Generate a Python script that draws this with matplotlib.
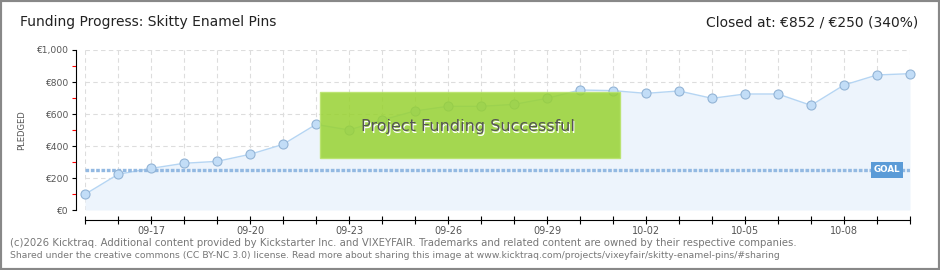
import numpy as np
import matplotlib
matplotlib.use("Agg")
import matplotlib.pyplot as plt
from matplotlib.patches import Rectangle

plt.rcParams['font.family'] = ['DejaVu Sans']

# data
dates = ['09-15', '09-16', '09-17', '09-18', '09-19', '09-20', '09-21', '09-22', '09-23',
         '09-24', '09-25', '09-26', '09-27', '09-28', '09-29', '09-30', '10-01', '10-02',
         '10-03', '10-04', '10-05', '10-06', '10-07', '10-08', '10-09', '10-10']
pledged = [98, 223, 260, 292, 304, 348, 410, 535, 500, 562, 619, 648, 648, 660, 698,
           750, 746, 729, 744, 698, 725, 725, 654, 781, 844, 852]
goal = 250
y_ticks = [0, 200, 400, 600, 800, 1000]
y_labels = ['€0', '€200', '€400', '€600', '€800', '€1,000']

W, H = 940, 270
fig = plt.figure(figsize=(W / 100, H / 100), dpi=100)
ax = fig.add_axes([85 / W, 1 - 210 / H, 825 / W, 160 / H])
x = np.arange(len(dates))

ax.set_xlim(0, len(dates) - 1)
ax.set_ylim(0, 1000)

# grid
for xi in x:
    ax.axvline(xi, color='#dddddd', lw=0.8, ls=(0, (4, 3)), zorder=0)
for yv in y_ticks:
    ax.axhline(yv, color='#dddddd', lw=0.8, ls=(0, (4, 3)), zorder=0)

ax.fill_between(x, pledged, 0, color='#edf4fc', zorder=1, lw=0)
ax.plot(x, pledged, color='#b5d5f3', lw=1, zorder=2)
ax.plot(x, pledged, 'o', ms=6.5, mfc='#c2ddf7', mec='#93b4d6', mew=0.8,
        zorder=3, clip_on=False)

# goal line
ax.axhline(goal, color='#93b9e2', lw=2.4, ls=(0, (1.1, 0.5)), zorder=2)
ax.text(24.3, goal, 'GOAL', color='white', fontsize=6.3, fontweight='bold',
        ha='center', va='center', zorder=5,
        bbox=dict(boxstyle='square,pad=0.35', fc='#5b9bd7', ec='none'))

# spines / ticks
for s in ['top', 'right']:
    ax.spines[s].set_visible(False)
ax.spines['left'].set_position(('outward', 6.5))
ax.spines['bottom'].set_position(('outward', 7.2))
ax.spines['left'].set_bounds(0, 1000)
ax.set_yticks(y_ticks)
ax.set_yticklabels(y_labels)
ax.set_yticks([100, 300, 500, 700, 900], minor=True)
ax.tick_params(axis='y', which='major', length=3, color='black', labelsize=6.6,
               labelcolor='#555555', pad=2)
ax.tick_params(axis='y', which='minor', length=3, color='red', width=0.8)
ax.set_xticks(x)
ax.set_xticklabels([d if i % 3 == 2 else '' for i, d in enumerate(dates)])
ax.tick_params(axis='x', which='major', direction='inout', length=6, labelsize=7,
               labelcolor='#555555', pad=1)
ax.set_ylabel('PLEDGED', fontsize=6, color='#555555', labelpad=8)

# success banner
fig.patches.append(Rectangle((320 / W, 1 - 158 / H), 300 / W, 66 / H,
                             transform=fig.transFigure, fc='#98d232', ec='#b8e36a',
                             alpha=0.85, zorder=10))
fig.text(469 / W, 1 - 128 / H, 'Project Funding Successful', fontsize=11.5,
         color='white', ha='center', va='center', zorder=11)
fig.text(468 / W, 1 - 127 / H, 'Project Funding Successful', fontsize=11.5,
         color='#555555', ha='center', va='center', zorder=12)

# header
fig.text(20 / W, 1 - 22 / H, 'Funding Progress: Skitty Enamel Pins', fontsize=10,
         color='#222222', va='center')
fig.text(918 / W, 1 - 22 / H, 'Closed at: €852 / €250 (340%)', fontsize=10,
         color='#222222', va='center', ha='right')

# footer
fig.text(10 / W, 1 - 243 / H,
         '(c)2026 Kicktraq. Additional content provided by Kickstarter Inc. and VIXEYFAIR. '
         'Trademarks and related content are owned by their respective companies.',
         fontsize=7.3, color='#777777', va='center')
fig.text(10 / W, 1 - 256 / H,
         'Shared under the creative commons (CC BY-NC 3.0) license. Read more about sharing '
         'this image at www.kicktraq.com/projects/vixeyfair/skitty-enamel-pins/#sharing',
         fontsize=6.7, color='#777777', va='center')

# frame
fig.patches.append(Rectangle((0, 0), 1, 1, transform=fig.transFigure, fill=False,
                             ec='#888888', lw=3))

fig.savefig('out.png', dpi=100)
